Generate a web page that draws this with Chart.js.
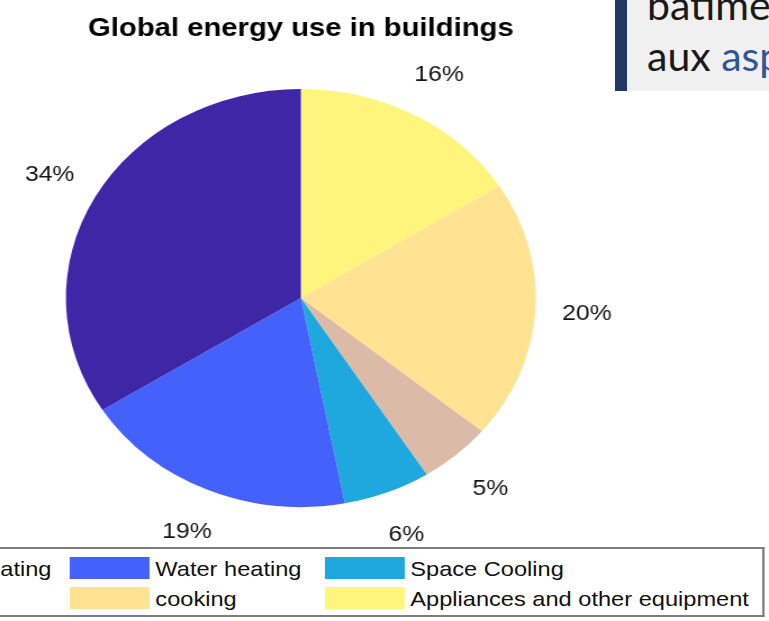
<!DOCTYPE html>
<html>
<head>
<meta charset="utf-8">
<script src="https://cdn.jsdelivr.net/npm/chart.js@4/dist/chart.umd.min.js"></script>
<style>
html, body { margin: 0; padding: 0; background: #fff; overflow: hidden; }
body { width: 769px; height: 621px; position: relative; }
/* the source picture is stretched sideways, so the whole chart stage is too */
#stage { position: absolute; left: 0; top: 0; width: 684px; height: 621px; transform: scaleX(1.1243); transform-origin: 0 0; }
#pie { position: absolute; left: 0; top: 0; }
#legend { position: absolute; left: -320px; top: 547px; width: 1000px; height: 70px; box-sizing: border-box;
  border-top: 2px solid #7d7d7d; border-bottom: 2px solid #7d7d7d; border-right: 2px solid #7d7d7d; background: #fff; }
.item { position: absolute; height: 22px; line-height: 22px; font: 21px "Liberation Sans", Arial, sans-serif; color: #111; white-space: nowrap; }
.swatch { position: absolute; left: 0; top: 0; width: 71px; height: 22px; }
.item span { position: absolute; left: 76px; top: 0; }
#note { position: absolute; left: 615px; top: 0; width: 154px; height: 91px; box-sizing: border-box;
  background: #f0f0f0; border-left: 12px solid #1f3864; overflow: hidden; }
#note div { position: absolute; left: 20px; white-space: nowrap; font: 41px Lato, sans-serif; line-height: 41px; color: #1a1a1a; }
#note .link { color: #2f5597; }
</style>
</head>
<body>
<div id="stage">
  <canvas id="pie" width="684" height="621"></canvas>
  <div id="legend"></div>
</div>
<div id="note">
  <div style="top:-16px">bâtiments</div>
  <div style="top:35px">aux <span class="link">aspects</span></div>
</div>
<script>
// slices in drawing order, clockwise from 12 o'clock
const titleText = 'Global energy use in buildings';
const categories = ['Appliances and other equipment', 'cooking', 'Lighting', 'Space Cooling', 'Water heating', 'Space heating'];
const shares = [16, 20, 5, 6, 19, 34];
const sliceColors = ['#fff57d', '#ffe292', '#dbbaa7', '#1ea8dd', '#4461fc', '#3e27a7'];
// legend reads row by row: Space heating, Water heating, Space Cooling / Lighting, cooking, Appliances
const legendOrder = [5, 4, 3, 2, 1, 0];

const total = shares.reduce((a, b) => a + b, 0);
const pctLabels = shares.map(v => Math.round(v / total * 100) + '%');

// percent text outside each slice, placed from the arc geometry
const pctLabelPlugin = {
    id: 'pctLabels',
    afterDatasetsDraw(chart) {
        const ctx = chart.ctx;
        const arcs = chart.getDatasetMeta(0).data;
        ctx.save();
        ctx.font = '22px "Liberation Sans", Arial, sans-serif';
        ctx.fillStyle = '#141414';
        ctx.textAlign = 'center';
        ctx.textBaseline = 'middle';
        arcs.forEach((arc, i) => {
            const p = arc.getProps(['x', 'y', 'startAngle', 'endAngle', 'outerRadius'], true);
            const mid = (p.startAngle + p.endAngle) / 2;
            const r = p.outerRadius * 1.22;
            ctx.fillText(pctLabels[i], p.x + Math.cos(mid) * r, p.y + Math.sin(mid) * r);
        });
        ctx.restore();
    }
};

new Chart(document.getElementById('pie'), {
    type: 'pie',
    data: {
        labels: categories,
        datasets: [{
            data: shares,
            backgroundColor: sliceColors,
            borderWidth: 0,
            hoverOffset: 0,
            offset: 0
        }]
    },
    options: {
        responsive: false,
        animation: false,
        layout: { padding: { left: 58.6, right: 207.4, top: 0, bottom: 114 } },
        plugins: {
            legend: { display: false },
            tooltip: { enabled: false },
            title: {
                display: true,
                text: titleText,
                color: '#000',
                font: { family: '"Liberation Sans", Arial, sans-serif', size: 26, weight: 'bold' },
                padding: { top: 13.4, bottom: 44.4 }
            }
        }
    },
    plugins: [pctLabelPlugin]
});

// legend grid, three columns, left column mostly cut off by the page edge
const legendBox = document.getElementById('legend');
legendOrder.forEach((idx, n) => {
    const col = n % 3, row = Math.floor(n / 3);
    const item = document.createElement('div');
    item.className = 'item';
    item.style.left = (320 - 164.5 + col * 226.7) + 'px';
    item.style.top = (8 + row * 30) + 'px';
    item.innerHTML = `<div class="swatch" style="background:${sliceColors[idx]}"></div><span>${categories[idx]}</span>`;
    legendBox.appendChild(item);
});
</script>
</body>
</html>
